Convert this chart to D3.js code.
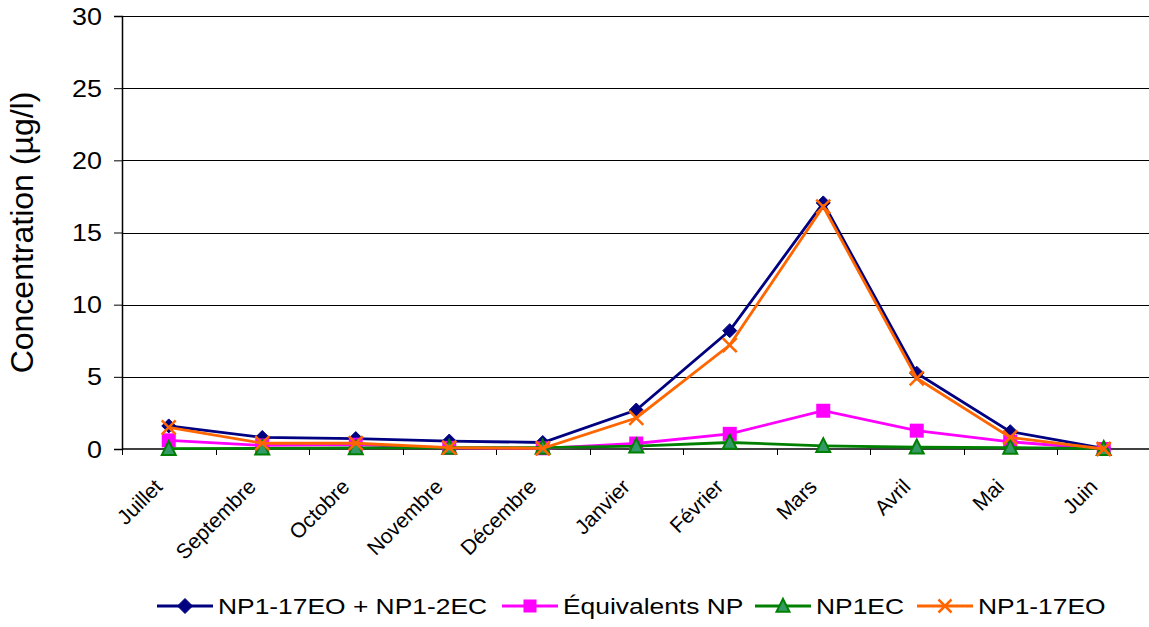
<!DOCTYPE html>
<html>
<head>
<meta charset="utf-8">
<script src="https://cdn.jsdelivr.net/npm/d3@7"></script>
<style>
  body { margin: 0; background: #fff; }
  svg { display: block; font-family: "Liberation Sans", Arial, sans-serif; }
</style>
</head>
<body>
<svg id="chart" width="1149" height="627"></svg>
<script>
// Monthly concentrations (µg/l)
const months = ["Juillet", "Septembre", "Octobre", "Novembre", "Décembre", "Janvier", "Février", "Mars", "Avril", "Mai", "Juin"];
const sumEO_EC = [1.6, 0.8, 0.72, 0.55, 0.45, 2.7, 8.2, 17.05, 5.25, 1.2, 0.05];
const equivNP  = [0.6, 0.25, 0.3, 0.08, 0.05, 0.38, 1.05, 2.65, 1.27, 0.5, 0.0];
const np1ec    = [0.02, 0.05, 0.08, 0.1, 0.1, 0.2, 0.45, 0.22, 0.12, 0.1, 0.02];
const np117eo  = [1.5, 0.4, 0.4, 0.1, 0.05, 2.15, 7.2, 16.8, 4.9, 0.8, 0.0];
const yTicks   = [0, 5, 10, 15, 20, 25, 30];

const series = [
  { name: "NP1-17EO + NP1-2EC", values: sumEO_EC, color: "#000080", marker: "diamond" },
  { name: "Équivalents NP", values: equivNP, color: "#ff00ff", marker: "square" },
  { name: "NP1EC", values: np1ec, color: "#008000", marker: "triangle" },
  { name: "NP1-17EO", values: np117eo, color: "#ff6600", marker: "cross" }
];

const svg = d3.select("#chart");
const m = { left: 122, top: 16, right: 1150.5, bottom: 449 };

const x = d3.scaleBand().domain(months).range([m.left, m.right]);
const y = d3.scaleLinear().domain([0, 30]).range([m.bottom, m.top]);

// horizontal gridlines
svg.append("g").selectAll("line").data(yTicks.filter(d => d > 0)).join("line")
  .attr("x1", m.left).attr("x2", 1149)
  .attr("y1", d => Math.round(y(d)) + 0.5).attr("y2", d => Math.round(y(d)) + 0.5)
  .attr("stroke", "#000").attr("stroke-width", 1);

// y axis: ticks from the scale, labels slightly widened
const yAxis = svg.append("g").attr("transform", `translate(${m.left},0)`)
  .call(d3.axisLeft(y).tickValues(yTicks).tickSize(8).tickFormat(""));
yAxis.select(".domain").attr("stroke", "#000").attr("stroke-width", 1.5);
yAxis.selectAll(".tick line").attr("stroke", "#000");
svg.append("g").selectAll("text").data(yTicks).join("text")
  .attr("transform", d => `translate(${m.left - 20},${y(d)}) scale(1.12,1)`)
  .attr("dy", "0.36em").attr("text-anchor", "end")
  .attr("font-size", 24).attr("fill", "#000").text(d => d);

// x axis: ticks on category boundaries
const xg = svg.append("g");
xg.append("line").attr("x1", m.left).attr("x2", 1149)
  .attr("y1", m.bottom).attr("y2", m.bottom)
  .attr("stroke", "#000").attr("stroke-width", 1.5);
const bounds = months.map(d => x(d)).concat([x(months[months.length - 1]) + x.bandwidth()]);
xg.selectAll("line.t").data(bounds).join("line").attr("class", "t")
  .attr("x1", d => Math.round(d) + 0.5).attr("x2", d => Math.round(d) + 0.5)
  .attr("y1", m.bottom).attr("y2", m.bottom + 6)
  .attr("stroke", "#000");
xg.selectAll("text").data(months).join("text")
  .attr("transform", d => `translate(${x(d) + x.bandwidth() / 2 - 5},${m.bottom + 39}) rotate(-45)`)
  .attr("text-anchor", "end").attr("font-size", 21).attr("fill", "#000")
  .text(d => d);

// y axis title
svg.append("text")
  .attr("transform", `translate(33,${(m.top + m.bottom) / 2}) rotate(-90)`)
  .attr("text-anchor", "middle").attr("font-size", 32).attr("fill", "#000")
  .text("Concentration (µg/l)");

function drawMarker(g, type, color, w, h) {
  if (type === "diamond") {
    g.append("path").attr("d", `M0,${-h / 2}L${w / 2},0L0,${h / 2}L${-w / 2},0Z`)
      .attr("fill", color).attr("stroke", color).attr("stroke-width", 1);
  } else if (type === "square") {
    g.append("rect").attr("x", -w / 2).attr("y", -h / 2).attr("width", w).attr("height", h)
      .attr("fill", color);
  } else if (type === "triangle") {
    g.append("path").attr("d", `M0,${-h * 0.55}L${w / 2},${h * 0.45}L${-w / 2},${h * 0.45}Z`)
      .attr("fill", "#339966").attr("stroke", color).attr("stroke-width", 2);
  } else if (type === "cross") {
    g.append("path").attr("d", `M${-w / 2},${-h / 2}L${w / 2},${h / 2}M${w / 2},${-h / 2}L${-w / 2},${h / 2}`)
      .attr("stroke", color).attr("stroke-width", 2.5).attr("fill", "none");
  }
}

const line = d3.line().x((d, i) => x(months[i]) + x.bandwidth() / 2).y(d => y(d));

series.forEach(s => {
  const g = svg.append("g");
  g.append("path").datum(s.values).attr("d", line)
    .attr("fill", "none").attr("stroke", s.color).attr("stroke-width", 2.8);
  s.values.forEach((v, i) => {
    const mg = g.append("g").attr("transform", `translate(${x(months[i]) + x.bandwidth() / 2},${y(v)})`);
    drawMarker(mg, s.marker, s.color, 14, 14);
  });
});

// legend
const legendX = [157, 502, 755, 917];
const ly = 606;
series.forEach((s, i) => {
  const g = svg.append("g").attr("transform", `translate(${legendX[i]},${ly})`);
  g.append("line").attr("x1", 0).attr("x2", 56).attr("y1", 0).attr("y2", 0)
    .attr("stroke", s.color).attr("stroke-width", 2.8);
  const mg = g.append("g").attr("transform", "translate(28,0)");
  if (s.marker === "diamond") drawMarker(mg, s.marker, s.color, 15, 15);
  else drawMarker(mg, s.marker, s.color, 13, 13);
  g.append("text").attr("transform", "translate(61,8) scale(1.2,1)")
    .attr("font-size", 22).attr("fill", "#000").text(s.name);
});
</script>
</body>
</html>
